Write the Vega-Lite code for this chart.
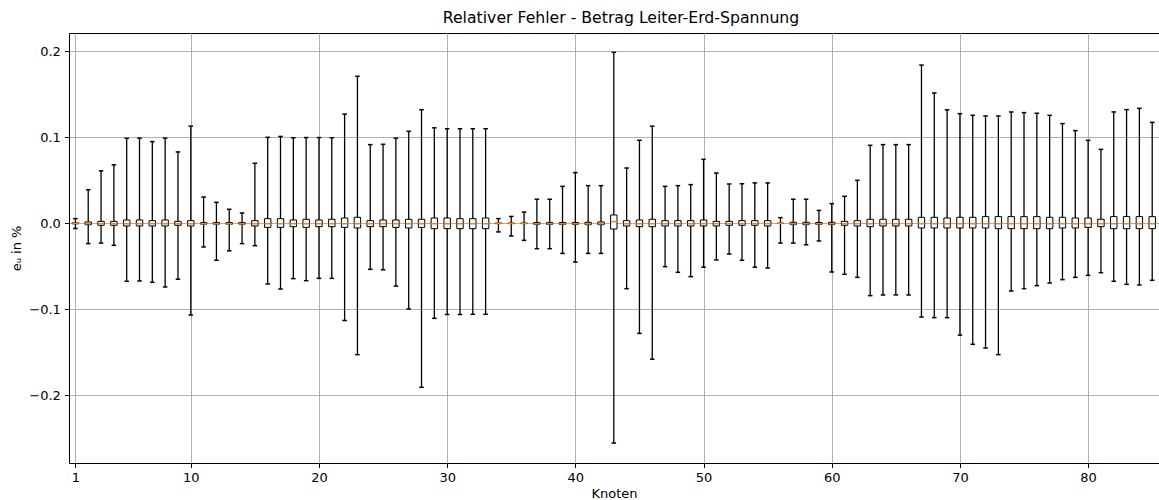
{
  "$schema": "https://vega.github.io/schema/vega-lite/v6.json",
  "autosize": {"type": "none"},
  "width": 1090,
  "height": 430,
  "padding": {"left": 69, "top": 33, "right": 0, "bottom": 37},
  "background": "white",
  "title": {"text": "Relativer Fehler - Betrag Leiter-Erd-Spannung", "anchor": "middle", "dx": 7, "offset": 6, "fontSize": 15.7, "fontWeight": "normal", "font": "DejaVu Sans", "color": "black"},
  "config": {
    "view": {"stroke": "black", "strokeWidth": 1},
    "axis": {"labelFont": "DejaVu Sans", "titleFont": "DejaVu Sans", "labelFontSize": 13, "titleFontSize": 13, "titleFontWeight": "normal", "labelColor": "black", "titleColor": "black", "tickColor": "black", "tickSize": 4.6, "tickWidth": 1, "gridColor": "#b0b0b0", "gridWidth": 1, "gridOpacity": 1, "domain": false, "labelPadding": 4}
  },
  "data": {"values": [
    {"node":1,"min":-0.006,"q1":-0.0006,"med":0,"q3":0.0006,"max":0.0055},
    {"node":2,"min":-0.0236,"q1":-0.0016,"med":-0.0004,"q3":0.0016,"max":0.039},
    {"node":3,"min":-0.023,"q1":-0.0023,"med":-0.0005,"q3":0.0023,"max":0.061},
    {"node":4,"min":-0.0256,"q1":-0.0023,"med":-0.0005,"q3":0.0023,"max":0.068},
    {"node":5,"min":-0.0674,"q1":-0.0031,"med":-0.0005,"q3":0.0039,"max":0.0988},
    {"node":6,"min":-0.067,"q1":-0.0031,"med":-0.0005,"q3":0.0039,"max":0.099},
    {"node":7,"min":-0.0686,"q1":-0.0031,"med":-0.0005,"q3":0.0031,"max":0.095},
    {"node":8,"min":-0.074,"q1":-0.0031,"med":-0.0005,"q3":0.0039,"max":0.099},
    {"node":9,"min":-0.065,"q1":-0.0023,"med":-0.0005,"q3":0.0023,"max":0.083},
    {"node":10,"min":-0.1066,"q1":-0.0031,"med":-0.0005,"q3":0.0031,"max":0.113},
    {"node":11,"min":-0.0275,"q1":-0.001,"med":-0.0005,"q3":0.0008,"max":0.0306},
    {"node":12,"min":-0.043,"q1":-0.001,"med":-0.0005,"q3":0.0008,"max":0.0244},
    {"node":13,"min":-0.032,"q1":-0.001,"med":-0.0005,"q3":0.0008,"max":0.0163},
    {"node":14,"min":-0.0236,"q1":-0.001,"med":-0.0005,"q3":0.0008,"max":0.012},
    {"node":15,"min":-0.026,"q1":-0.0031,"med":-0.0005,"q3":0.0031,"max":0.0698},
    {"node":16,"min":-0.0705,"q1":-0.0047,"med":-0.0005,"q3":0.0054,"max":0.1},
    {"node":17,"min":-0.0764,"q1":-0.0047,"med":-0.0005,"q3":0.0054,"max":0.101},
    {"node":18,"min":-0.0643,"q1":-0.0039,"med":-0.0005,"q3":0.0039,"max":0.0995},
    {"node":19,"min":-0.0667,"q1":-0.0047,"med":-0.0005,"q3":0.0047,"max":0.0997},
    {"node":20,"min":-0.064,"q1":-0.0039,"med":-0.0005,"q3":0.0039,"max":0.0997},
    {"node":21,"min":-0.064,"q1":-0.0039,"med":-0.0005,"q3":0.0047,"max":0.0995},
    {"node":22,"min":-0.113,"q1":-0.0047,"med":-0.0005,"q3":0.0062,"max":0.127},
    {"node":23,"min":-0.1527,"q1":-0.0054,"med":-0.0005,"q3":0.007,"max":0.171},
    {"node":24,"min":-0.0535,"q1":-0.0039,"med":-0.0005,"q3":0.0031,"max":0.0915},
    {"node":25,"min":-0.054,"q1":-0.0039,"med":-0.0005,"q3":0.0039,"max":0.0919},
    {"node":26,"min":-0.073,"q1":-0.0047,"med":-0.0005,"q3":0.0039,"max":0.099},
    {"node":27,"min":-0.0996,"q1":-0.0054,"med":-0.0005,"q3":0.0047,"max":0.107},
    {"node":28,"min":-0.1907,"q1":-0.0047,"med":-0.0005,"q3":0.0047,"max":0.132},
    {"node":29,"min":-0.1105,"q1":-0.0062,"med":-0.0005,"q3":0.0062,"max":0.111},
    {"node":30,"min":-0.106,"q1":-0.0062,"med":-0.0005,"q3":0.0062,"max":0.11},
    {"node":31,"min":-0.106,"q1":-0.0062,"med":-0.0005,"q3":0.0054,"max":0.11},
    {"node":32,"min":-0.1058,"q1":-0.0062,"med":-0.0005,"q3":0.0054,"max":0.11},
    {"node":33,"min":-0.1058,"q1":-0.0062,"med":-0.0005,"q3":0.0062,"max":0.11},
    {"node":34,"min":-0.01,"q1":-0.0003,"med":-0.0002,"q3":0.0003,"max":0.0055},
    {"node":35,"min":-0.0147,"q1":-0.0003,"med":-0.0002,"q3":0.0003,"max":0.008},
    {"node":36,"min":-0.0198,"q1":-0.0003,"med":-0.0002,"q3":0.0003,"max":0.013},
    {"node":37,"min":-0.0295,"q1":-0.0012,"med":-0.0005,"q3":0.0008,"max":0.028},
    {"node":38,"min":-0.0295,"q1":-0.0012,"med":-0.0005,"q3":0.0008,"max":0.028},
    {"node":39,"min":-0.035,"q1":-0.0012,"med":-0.0005,"q3":0.001,"max":0.043},
    {"node":40,"min":-0.045,"q1":-0.0012,"med":-0.0005,"q3":0.001,"max":0.059},
    {"node":41,"min":-0.035,"q1":-0.0016,"med":-0.0005,"q3":0.0012,"max":0.0438},
    {"node":42,"min":-0.035,"q1":-0.0016,"med":-0.0005,"q3":0.0016,"max":0.0438},
    {"node":43,"min":-0.2555,"q1":-0.0066,"med":0.002,"q3":0.0097,"max":0.1988},
    {"node":44,"min":-0.076,"q1":-0.0031,"med":-0.0005,"q3":0.0031,"max":0.0643},
    {"node":45,"min":-0.128,"q1":-0.0039,"med":-0.0005,"q3":0.0039,"max":0.0965},
    {"node":46,"min":-0.158,"q1":-0.0039,"med":-0.0005,"q3":0.0047,"max":0.113},
    {"node":47,"min":-0.0504,"q1":-0.0031,"med":-0.0005,"q3":0.0031,"max":0.043},
    {"node":48,"min":-0.057,"q1":-0.0031,"med":-0.0005,"q3":0.0031,"max":0.0438},
    {"node":49,"min":-0.062,"q1":-0.0031,"med":-0.0005,"q3":0.0031,"max":0.045},
    {"node":50,"min":-0.051,"q1":-0.0031,"med":-0.0005,"q3":0.0039,"max":0.0744},
    {"node":51,"min":-0.0426,"q1":-0.0031,"med":-0.0005,"q3":0.0023,"max":0.0585},
    {"node":52,"min":-0.0357,"q1":-0.0023,"med":-0.0005,"q3":0.0023,"max":0.0457},
    {"node":53,"min":-0.043,"q1":-0.0023,"med":-0.0005,"q3":0.0031,"max":0.046},
    {"node":54,"min":-0.051,"q1":-0.0023,"med":-0.0005,"q3":0.0031,"max":0.047},
    {"node":55,"min":-0.052,"q1":-0.0031,"med":-0.0005,"q3":0.0031,"max":0.047},
    {"node":56,"min":-0.023,"q1":-0.0002,"med":-0.0001,"q3":0.0002,"max":0.0066},
    {"node":57,"min":-0.023,"q1":-0.0015,"med":-0.0005,"q3":0.0012,"max":0.028},
    {"node":58,"min":-0.025,"q1":-0.0015,"med":-0.0005,"q3":0.0012,"max":0.028},
    {"node":59,"min":-0.0205,"q1":-0.0012,"med":-0.0005,"q3":0.001,"max":0.015},
    {"node":60,"min":-0.0566,"q1":-0.0015,"med":-0.0005,"q3":0.0012,"max":0.0229},
    {"node":61,"min":-0.0593,"q1":-0.0023,"med":-0.0005,"q3":0.0023,"max":0.0314},
    {"node":62,"min":-0.0628,"q1":-0.0031,"med":-0.0005,"q3":0.0031,"max":0.05},
    {"node":63,"min":-0.0841,"q1":-0.0039,"med":-0.0005,"q3":0.0047,"max":0.0907},
    {"node":64,"min":-0.0833,"q1":-0.0031,"med":-0.0005,"q3":0.0047,"max":0.0915},
    {"node":65,"min":-0.0833,"q1":-0.0031,"med":-0.0005,"q3":0.0047,"max":0.0915},
    {"node":66,"min":-0.0833,"q1":-0.0031,"med":-0.0005,"q3":0.0047,"max":0.0915},
    {"node":67,"min":-0.109,"q1":-0.0054,"med":-0.0005,"q3":0.007,"max":0.184},
    {"node":68,"min":-0.1097,"q1":-0.0054,"med":-0.0005,"q3":0.007,"max":0.1516},
    {"node":69,"min":-0.1097,"q1":-0.0054,"med":-0.0005,"q3":0.0062,"max":0.132},
    {"node":70,"min":-0.13,"q1":-0.0054,"med":-0.0005,"q3":0.007,"max":0.1275},
    {"node":71,"min":-0.1407,"q1":-0.0054,"med":-0.0005,"q3":0.007,"max":0.1256},
    {"node":72,"min":-0.145,"q1":-0.0054,"med":-0.0005,"q3":0.0078,"max":0.1248},
    {"node":73,"min":-0.1527,"q1":-0.0062,"med":-0.0005,"q3":0.0078,"max":0.1248},
    {"node":74,"min":-0.0787,"q1":-0.0062,"med":-0.0005,"q3":0.0078,"max":0.1295},
    {"node":75,"min":-0.076,"q1":-0.0062,"med":-0.0005,"q3":0.0078,"max":0.1287},
    {"node":76,"min":-0.0725,"q1":-0.0062,"med":-0.0005,"q3":0.0078,"max":0.128},
    {"node":77,"min":-0.0694,"q1":-0.0062,"med":-0.0005,"q3":0.007,"max":0.1256},
    {"node":78,"min":-0.0655,"q1":-0.0054,"med":-0.0005,"q3":0.007,"max":0.116},
    {"node":79,"min":-0.0628,"q1":-0.0054,"med":-0.0005,"q3":0.0062,"max":0.1078},
    {"node":80,"min":-0.0605,"q1":-0.0047,"med":-0.0005,"q3":0.0062,"max":0.0965},
    {"node":81,"min":-0.0574,"q1":-0.0039,"med":-0.0005,"q3":0.0047,"max":0.086},
    {"node":82,"min":-0.0674,"q1":-0.0062,"med":-0.0005,"q3":0.0078,"max":0.1295},
    {"node":83,"min":-0.071,"q1":-0.0062,"med":-0.0005,"q3":0.0078,"max":0.1322},
    {"node":84,"min":-0.0717,"q1":-0.0062,"med":-0.0005,"q3":0.0078,"max":0.1337},
    {"node":85,"min":-0.0663,"q1":-0.0062,"med":-0.0005,"q3":0.0078,"max":0.1174}
  ]},
  "encoding": {
    "x": {"field": "node", "type": "quantitative", "scale": {"domain": [0.5, 85.53], "nice": false, "zero": false, "padding": 0},
      "axis": {"values": [1, 10, 20, 30, 40, 50, 60, 70, 80], "title": "Knoten", "titlePadding": 3, "grid": true, "labelFlush": false}}
  },
  "layer": [
    {
      "mark": {"type": "rule", "color": "black", "strokeWidth": 1.3},
      "encoding": {
        "y": {"field": "min", "type": "quantitative", "scale": {"domain": [-0.2787, 0.2213], "nice": false, "zero": false, "padding": 0},
          "axis": {"values": [-0.2, -0.1, 0, 0.1, 0.2], "title": "eᵤ in %", "titlePadding": 5, "grid": true, "labelExpr": "replace(format(datum.value, '.1f'), '-', '−')"}},
        "y2": {"field": "max"}
      }
    },
    {
      "mark": {"type": "rule", "color": "#ff7f0e", "strokeWidth": 1, "opacity": 0.6},
      "encoding": {"y": {"datum": 0}}
    },
    {
      "mark": {"type": "bar", "size": 6.4, "fill": "white", "stroke": "black", "strokeWidth": 1},
      "encoding": {"y": {"field": "q1", "type": "quantitative"}, "y2": {"field": "q3"}}
    },
    {
      "mark": {"type": "tick", "orient": "horizontal", "size": 6.4, "thickness": 1.5, "color": "#ff7f0e", "opacity": 1},
      "encoding": {"y": {"field": "med", "type": "quantitative"}}
    },
    {
      "mark": {"type": "tick", "orient": "horizontal", "size": 4.5, "thickness": 1.5, "color": "black", "opacity": 1},
      "encoding": {"y": {"field": "max", "type": "quantitative"}}
    },
    {
      "mark": {"type": "tick", "orient": "horizontal", "size": 4.5, "thickness": 1.5, "color": "black", "opacity": 1},
      "encoding": {"y": {"field": "min", "type": "quantitative"}}
    }
  ]
}
